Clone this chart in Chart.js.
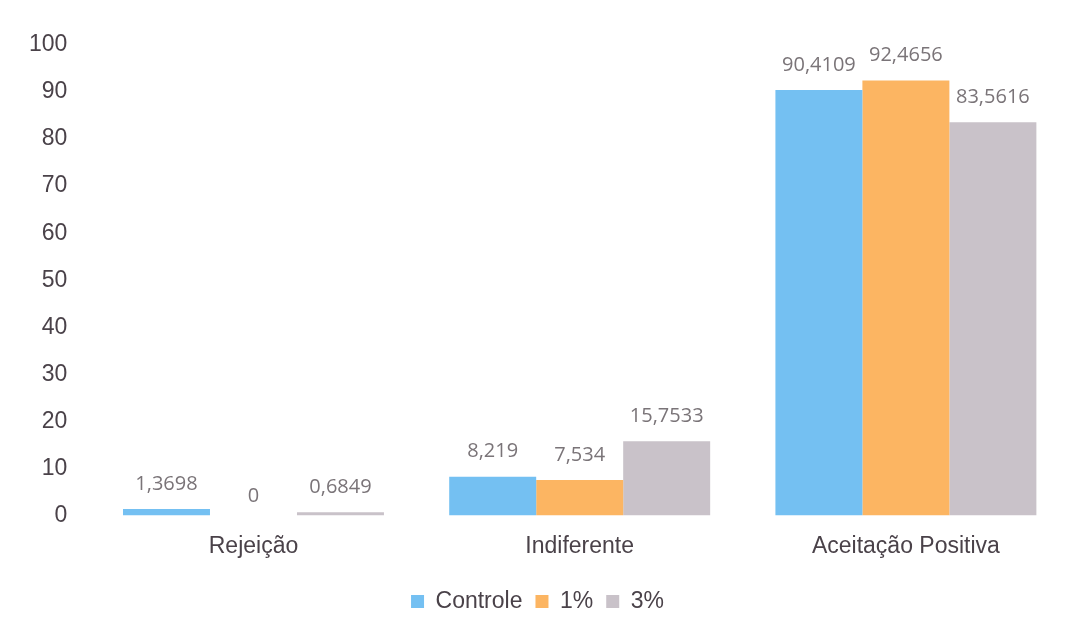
<!DOCTYPE html>
<html>
<head>
<meta charset="utf-8">
<script src="https://cdn.jsdelivr.net/npm/chart.js@4/dist/chart.umd.min.js"></script>
<style>
  html, body { margin: 0; padding: 0; background: #fff; }
  #wrap { width: 1082px; height: 627px; }
</style>
</head>
<body>
<div id="wrap"><canvas id="chart" width="1082" height="627"></canvas></div>
<script>
// categories and series
const categories = ['Rejeição', 'Indiferente', 'Aceitação Positiva']
const controle = [1.3698, 8.219, 90.4109]
const pct1 = [0, 7.534, 92.4656]
const pct3 = [0.6849, 15.7533, 83.5616]
const seriesNames = ['Controle', '1%', '3%']
const yTicks = [0, 10, 20, 30, 40, 50, 60, 70, 80, 90, 100]

// colours
const colours = ['#74c0f2', '#fcb562', '#c9c2c9']
const textColour = '#4a4249'
const axisFont = { family: '"Liberation Sans", Arial, sans-serif', size: 23 }

// value labels above bars, comma decimals
const valueLabels = {
  id: 'valueLabels',
  afterDatasetsDraw (chart) {
    const ctx = chart.ctx
    ctx.save()
    ctx.font = '20px "Open Sans", sans-serif'
    ctx.fillStyle = '#7a7478'
    ctx.textAlign = 'center'
    ctx.textBaseline = 'middle'
    chart.data.datasets.forEach((ds, i) => {
      chart.getDatasetMeta(i).data.forEach((bar, j) => {
        const text = String(ds.data[j]).replace('.', ',')
        const extra = ds.data[j] === 0 ? 6 : 0
        ctx.fillText(text, bar.x, bar.y - 25 + extra)
      })
    })
    ctx.restore()
  }
}

const chart = new Chart(document.getElementById('chart'), {
  type: 'bar',
  data: {
    labels: categories,
    datasets: [controle, pct1, pct3].map((data, i) => ({
      label: seriesNames[i],
      data,
      backgroundColor: colours[i],
      categoryPercentage: 0.8,
      barPercentage: 1.0
    }))
  },
  options: {
    responsive: false,
    animation: false,
    layout: { padding: { top: 45, left: 6, right: 13, bottom: 4 } },
    plugins: {
      legend: {
        position: 'bottom',
        labels: {
          boxWidth: 13,
          boxHeight: 13,
          padding: 13,
          color: textColour,
          font: axisFont
        }
      },
      tooltip: { enabled: false }
    },
    scales: {
      x: {
        grid: { display: false, drawTicks: false },
        border: { display: false },
        ticks: { color: textColour, padding: 17, font: axisFont }
      },
      y: {
        min: 0,
        max: 100,
        afterBuildTicks: (axis) => { axis.ticks = yTicks.map(v => ({ value: v })) },
        grid: { display: false, drawTicks: false },
        border: { display: false },
        ticks: { color: textColour, padding: 23, font: axisFont }
      }
    }
  },
  plugins: [valueLabels]
})
</script>
</body>
</html>
